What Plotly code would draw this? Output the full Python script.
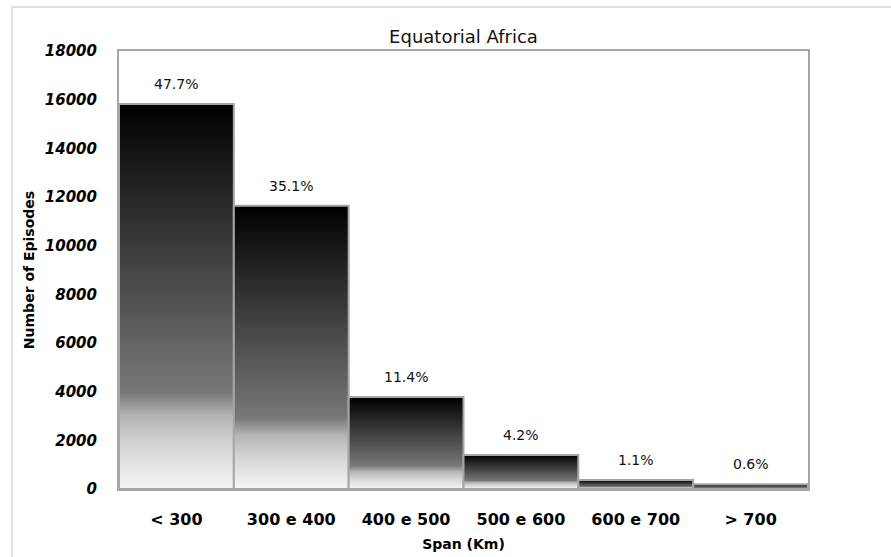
import plotly.graph_objects as go

# Span classes and episode counts
categories = ["< 300", "300 e 400", "400 e 500", "500 e 600", "600 e 700", "> 700"]
episodes = [15820, 11640, 3780, 1395, 365, 200]
percent_labels = ["47.7%", "35.1%", "11.4%", "4.2%", "1.1%", "0.6%"]
y_ticks = [0, 2000, 4000, 6000, 8000, 10000, 12000, 14000, 16000, 18000]

FONT = "DejaVu Sans"
OUTLINE = "#a6a6a6"
# vertical gradient: position 0 = bar bottom, 1 = bar top
GRADIENT = [[0.0, "#f6f6f6"], [0.12, "#d2d2d2"], [0.19, "#b4b4b4"],
            [0.25, "#787878"], [1.0, "#000000"]]

fig = go.Figure()

# each bar is a filled rectangle spanning its whole category slot (no gaps)
for i, (cat, val) in enumerate(zip(categories, episodes)):
    fig.add_trace(go.Scatter(
        x=[i - 0.5, i + 0.5, i + 0.5, i - 0.5, i - 0.5],
        y=[0, 0, val, val, 0],
        mode="lines",
        fill="toself",
        fillgradient=dict(type="vertical", colorscale=GRADIENT),
        line=dict(color=OUTLINE, width=2),
        name=cat,
        hoverinfo="skip",
        showlegend=False,
    ))

# percentage labels above each bar
for i, (val, lab) in enumerate(zip(episodes, percent_labels)):
    fig.add_annotation(
        x=i, y=val, text=lab, showarrow=False,
        yanchor="bottom", yshift=10,
        font=dict(family=FONT, size=14, color="#111111"),
    )

# light frame around the whole chart
fig.add_shape(type="rect", xref="paper", yref="paper",
              x0=-0.1553, x1=1.5, y0=-0.5, y1=1.1005,
              line=dict(color="#d9d9d9", width=1.5), fillcolor="rgba(0,0,0,0)",
              layer="below")

fig.update_layout(
    width=891, height=557,
    margin=dict(l=119, r=83, t=51, b=68),
    paper_bgcolor="white", plot_bgcolor="white",
    title=dict(text="Equatorial Africa", x=0.5, xref="paper", xanchor="center",
               y=1 - 37 / 557, yanchor="middle",
               font=dict(family=FONT, size=18, color="#111111")),
    showlegend=False,
)

fig.update_xaxes(
    range=[-0.5, 5.5], automargin=False,
    tickmode="array", tickvals=list(range(len(categories))), ticktext=categories,
    showgrid=False, zeroline=False,
    showline=True, mirror=True, linecolor=OUTLINE, linewidth=2,
    ticks="", ticklabelstandoff=15,
    tickfont=dict(family=FONT, size=16, color="#000000", weight="bold"),
    title=dict(text="Span (Km)", standoff=11,
               font=dict(family=FONT, size=14, color="#000000", weight="bold")),
)

fig.update_yaxes(
    range=[0, 18000], automargin=False,
    tickmode="array", tickvals=y_ticks, ticktext=[str(v) for v in y_ticks],
    showgrid=False, zeroline=False,
    showline=True, mirror=True, linecolor=OUTLINE, linewidth=2,
    ticks="", ticklabelstandoff=17,
    tickfont=dict(family=FONT, size=15, color="#000000", weight="bold", style="italic"),
    title=dict(text="Number of Episodes", standoff=7,
               font=dict(family=FONT, size=14, color="#000000", weight="bold")),
)

fig.write_html("out.html")
